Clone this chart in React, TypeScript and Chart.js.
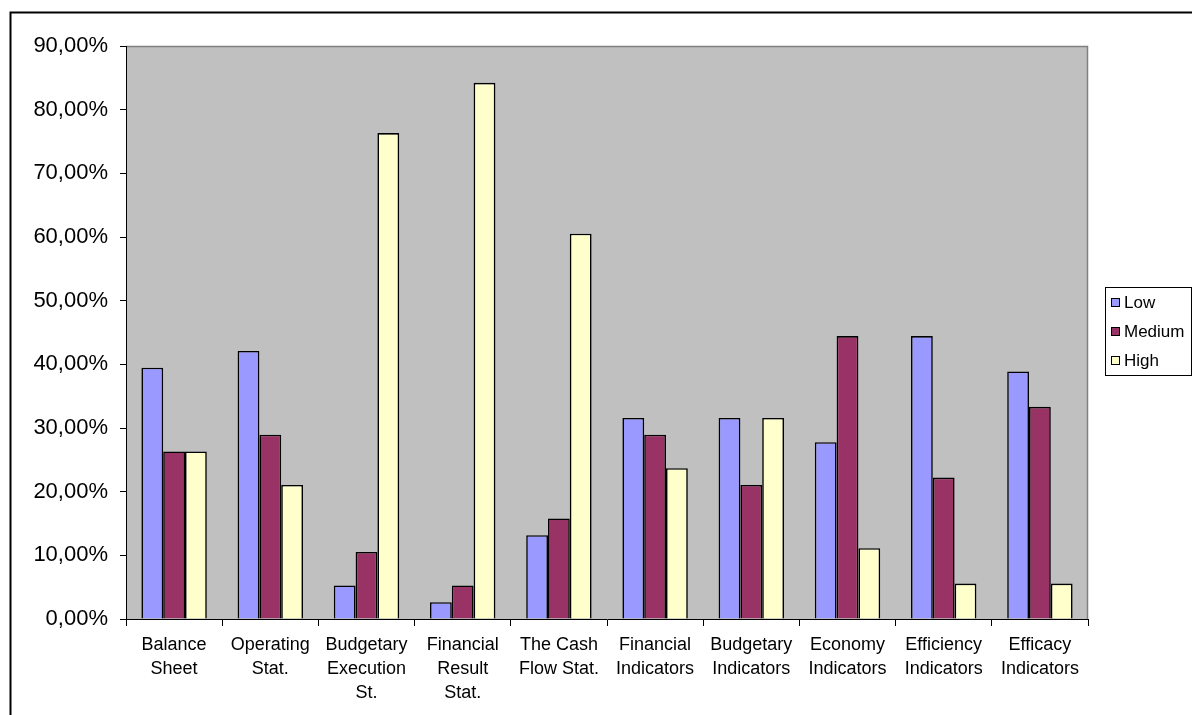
import React, { useEffect, useRef } from "react";
import { Chart, registerables } from "chart.js";

Chart.register(...registerables);

const categories: string[][] = [
  ["Balance", "Sheet"],
  ["Operating", "Stat."],
  ["Budgetary", "Execution", "St."],
  ["Financial", "Result", "Stat."],
  ["The Cash", "Flow Stat."],
  ["Financial", "Indicators"],
  ["Budgetary", "Indicators"],
  ["Economy", "Indicators"],
  ["Efficiency", "Indicators"],
  ["Efficacy", "Indicators"],
];

const lowValues = [39.47, 42.11, 5.26, 2.63, 13.16, 31.58, 31.58, 27.78, 44.44, 38.89];
const mediumValues = [26.32, 28.95, 10.53, 5.26, 15.79, 28.95, 21.05, 44.44, 22.22, 33.33];
const highValues = [26.32, 21.05, 76.32, 84.21, 60.53, 23.68, 31.58, 11.11, 5.56, 5.56];

const seriesNames = ["Low", "Medium", "High"];
const seriesColors = ["#9999FF", "#993366", "#FFFFCC"];

const FONT = "'Liberation Sans', Arial, sans-serif";

// Gray plot background, frame around the whole chart and boxed legend
const decorPlugin = {
  id: "decor",
  beforeDraw(chart: any) {
    const { ctx, chartArea } = chart;
    const { left, top, right, bottom } = chartArea;
    ctx.save();
    ctx.fillStyle = "#ffffff";
    ctx.fillRect(0, 0, chart.width, chart.height);
    ctx.fillStyle = "#C0C0C0";
    ctx.fillRect(left, top, right - left, bottom - top);
    ctx.strokeStyle = "#808080";
    ctx.lineWidth = 1.5;
    ctx.beginPath();
    ctx.moveTo(left, top + 0.5);
    ctx.lineTo(right - 0.5, top + 0.5);
    ctx.lineTo(right - 0.5, bottom);
    ctx.stroke();
    // outer frame
    ctx.strokeStyle = "#000000";
    ctx.lineWidth = 2;
    ctx.strokeRect(10.5, 12.5, chart.width + 20, chart.height + 20);
    ctx.restore();
  },
  afterDraw(chart: any) {
    const { ctx } = chart;
    ctx.save();
    const bx = 1105.5;
    const by = 287.5;
    ctx.fillStyle = "#ffffff";
    ctx.fillRect(bx, by, 86, 88);
    ctx.strokeStyle = "#000000";
    ctx.lineWidth = 1;
    ctx.strokeRect(bx, by, 86, 88);
    const rows = [302.5, 331.5, 360.5];
    ctx.font = `17px ${FONT}`;
    ctx.textBaseline = "middle";
    ctx.textAlign = "left";
    chart.data.datasets.forEach((ds: any, i: number) => {
      const cy = rows[i];
      ctx.fillStyle = ds.backgroundColor;
      ctx.fillRect(1111, cy - 4.5, 9, 9);
      ctx.strokeStyle = "#000000";
      ctx.strokeRect(1111.5, cy - 4, 8, 8);
      ctx.fillStyle = "#000000";
      ctx.fillText(ds.label, 1124, cy + 1);
    });
    ctx.restore();
  },
};

export default function App() {
  const canvasRef = useRef<HTMLCanvasElement | null>(null);

  useEffect(() => {
    if (!canvasRef.current) return;
    const datasets = [lowValues, mediumValues, highValues].map((vals, i) => ({
      label: seriesNames[i],
      data: vals,
      backgroundColor: seriesColors[i],
      borderColor: "#000000",
      borderWidth: 1.6,
      categoryPercentage: 0.68,
      barPercentage: 1.0,
    }));

    const chart = new Chart(canvasRef.current, {
      type: "bar",
      data: { labels: categories, datasets },
      options: {
        responsive: false,
        animation: false,
        devicePixelRatio: 1,
        layout: { padding: { left: 0, top: 46, right: 104, bottom: 0 } },
        plugins: {
          legend: { display: false },
          tooltip: { enabled: false },
        },
        scales: {
          x: {
            afterFit(scale: any) {
              scale.height = 96;
            },
            grid: {
              display: true,
              drawOnChartArea: false,
              drawTicks: true,
              tickLength: 7,
              color: "#000000",
              offset: true,
            },
            border: { display: true, color: "#000000", width: 1 },
            ticks: {
              color: "#000000",
              font: { family: FONT, size: 18, lineHeight: 1.333 },
              padding: 7,
              maxRotation: 0,
              autoSkip: false,
            },
          },
          y: {
            min: 0,
            max: 90,
            afterFit(scale: any) {
              scale.width = 126;
            },
            grid: {
              display: true,
              drawOnChartArea: false,
              drawTicks: true,
              tickLength: 6,
              color: "#000000",
            },
            border: { display: true, color: "#000000", width: 1 },
            ticks: {
              stepSize: 10,
              color: "#000000",
              padding: 12,
              font: { family: FONT, size: 22 },
              callback: (v: any) => Number(v).toFixed(2).replace(".", ",") + "%",
            },
          },
        },
      },
      plugins: [decorPlugin],
    });

    return () => chart.destroy();
  }, []);

  return (
    <div
      style={{
        position: "fixed",
        left: 0,
        top: 0,
        width: 1192,
        height: 715,
        overflow: "hidden",
        background: "#ffffff",
      }}
    >
      <canvas ref={canvasRef} width={1192} height={715} style={{ display: "block" }} />
    </div>
  );
}
